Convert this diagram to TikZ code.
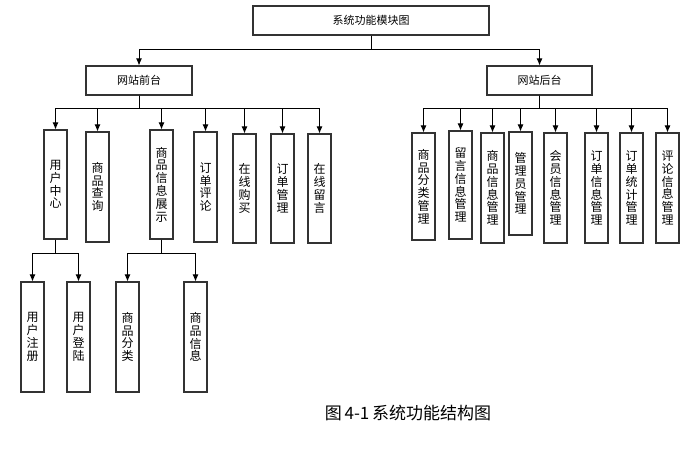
\documentclass[tikz,border=0pt]{standalone}
\usepackage{fontspec}
\setmainfont{Noto Sans CJK SC}
\usetikzlibrary{arrows.meta}
\tikzset{
  box/.style={draw=black!80, line width=1.1pt, fill=white, inner sep=0pt, font=\fontsize{11}{12.5}\selectfont},
  hbox/.style={box, minimum height=29pt},
  vbox/.style={box, minimum width=23pt, align=center, font=\fontsize{12}{12.8}\selectfont},
  arr/.style={draw=black, line width=0.9pt, -{Latex[length=7pt,width=6pt]}},
}
\begin{document}
\begin{tikzpicture}[x=1pt,y=-1pt]
\useasboundingbox[fill=white] (0,0) rectangle (698,462);
% top level
\node[hbox, minimum width=236pt] (top) at (371,20.5) {系统功能模块图};
\node[hbox, minimum width=106pt] (front) at (139,80.5) {网站前台};
\node[hbox, minimum width=105pt] (back) at (539.5,80.5) {网站后台};
% front children
\node[vbox, minimum height=109pt] (uc) at (55.5,184.5) {用\\户\\中\\心};
\node[vbox, minimum height=110pt] (sq) at (97.5,187) {商\\品\\查\\询};
\node[vbox, minimum height=109pt] (sp) at (161.5,184.5) {商\\品\\信\\息\\展\\示};
\node[vbox, minimum height=110pt] (dp) at (205.5,187) {订\\单\\评\\论};
\node[vbox, minimum height=109pt] (zg) at (244.5,188.5) {在\\线\\购\\买};
\node[vbox, minimum height=109pt] (dg) at (282.5,188.5) {订\\单\\管\\理};
\node[vbox, minimum height=109pt] (zl) at (319.5,188.5) {在\\线\\留\\言};
% back children
\node[vbox, minimum height=107pt] (b1) at (423.5,186.5) {商\\品\\分\\类\\管\\理};
\node[vbox, minimum height=108pt] (b2) at (460.5,185) {留\\言\\信\\息\\管\\理};
\node[vbox, minimum height=110pt] (b3) at (492.5,188) {商\\品\\信\\息\\管\\理};
\node[vbox, minimum height=103pt] (b4) at (520.5,183.5) {管\\理\\员\\管\\理};
\node[vbox, minimum height=110pt] (b5) at (555.5,188) {会\\员\\信\\息\\管\\理};
\node[vbox, minimum height=110pt] (b6) at (596.5,188) {订\\单\\信\\息\\管\\理};
\node[vbox, minimum height=110pt] (b7) at (631.5,188) {订\\单\\统\\计\\管\\理};
\node[vbox, minimum height=110pt] (b8) at (667.5,188) {评\\论\\信\\息\\管\\理};
% level 2
\node[vbox, minimum height=110pt] (u1) at (32.5,337) {用\\户\\注\\册};
\node[vbox, minimum height=110pt] (u2) at (78.5,337) {用\\户\\登\\陆};
\node[vbox, minimum height=110pt] (s1) at (127.5,337) {商\\品\\分\\类};
\node[vbox, minimum height=110pt] (s2) at (195.5,337) {商\\品\\信\\息};
% connectors
\foreach \c in {front,back} \draw[arr] (top.south) -- ++(0,14) -| (\c.north);
\foreach \c in {uc,sq,sp,dp,zg,dg,zl} \draw[arr] (front.south) -- ++(0,13) -| (\c.north);
\foreach \c in {b1,b2,b3,b4,b5,b6,b7,b8} \draw[arr] (back.south) -- ++(0,13) -| (\c.north);
\foreach \c in {u1,u2} \draw[arr] (uc.south) -- ++(0,14) -| (\c.north);
\foreach \c in {s1,s2} \draw[arr] (sp.south) -- ++(0,14) -| (\c.north);
% caption
\node[font=\fontsize{17}{19}\selectfont, inner sep=0pt] (cap) at (408,413) {图\,4-1\,系统功能结构图};
\end{tikzpicture}
\end{document}
